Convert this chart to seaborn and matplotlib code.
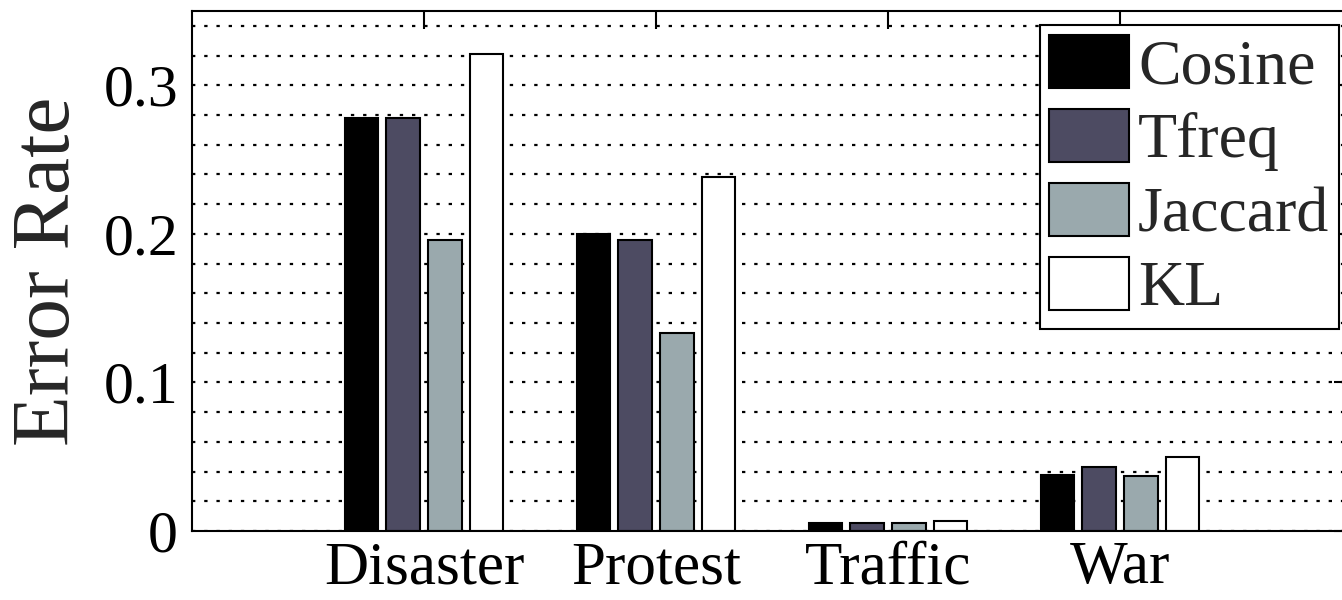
import numpy as np
import pandas as pd
import matplotlib
matplotlib.use("Agg")
import matplotlib.pyplot as plt
import seaborn as sb

# values
categories = ["Disaster", "Protest", "Traffic", "War"]
methods = ["Cosine", "Tfreq", "Jaccard", "KL"]
cosine = [0.278, 0.200, 0.0055, 0.038]
tfreq = [0.278, 0.196, 0.0055, 0.043]
jaccard = [0.196, 0.133, 0.0055, 0.037]
kl = [0.321, 0.238, 0.007, 0.050]
colors = ["#000000", "#4a4766", "#97abb0", "#ffffff"]
yticks = [0, 0.1, 0.2, 0.3]
ytick_labels = ["0", "0.1", "0.2", "0.3"]

rows = []
for name, vals in zip(methods, [cosine, tfreq, jaccard, kl]):
    for cat, v in zip(categories, vals):
        rows.append({"category": cat, "method": name, "value": v})
df = pd.DataFrame(rows)

sb.set_style("white")
plt.rcParams["font.family"] = ["Liberation Serif", "DejaVu Serif"]

fig = plt.figure(figsize=(13.42, 6), dpi=100)
# axes run past the right edge of the figure, as in the reference
ax = fig.add_axes([192 / 1342, 69 / 600, 1160 / 1342, 520 / 600])

sb.barplot(data=df, x="category", y="value", hue="method", hue_order=methods,
           order=categories, palette=colors, width=0.72, gap=0.2,
           edgecolor="black", linewidth=1.5, errorbar=None, ax=ax)

ax.set_xlim(-1, 4)
ax.set_ylim(0, 0.35)
ax.set_yticks(yticks)
ax.set_yticklabels(ytick_labels)
ax.set_yticks(np.arange(0.02, 0.35, 0.02), minor=True)
ax.set_axisbelow(True)
ax.grid(which="both", axis="y", color="black", linestyle=(0, (1.5, 4)), linewidth=1.6)
ax.grid(which="both", axis="x", visible=False)

ax.tick_params(which="major", direction="in", length=13, width=1.5,
               top=True, right=True, colors="black")
ax.tick_params(axis="y", which="major", labelsize=43, pad=10)
ax.tick_params(axis="x", which="major", labelsize=44, pad=7)
ax.tick_params(which="minor", length=0)
for s in ax.spines.values():
    s.set_visible(True)
    s.set_color("black")
    s.set_linewidth(1.5)

ax.set_xlabel("")
ax.set_ylabel("Error Rate", fontsize=60, labelpad=12)

handles, labels = ax.get_legend_handles_labels()
leg = ax.legend(handles, labels, loc="upper right",
                bbox_to_anchor=(1339 / 1342, 575 / 600), bbox_transform=fig.transFigure,
                fontsize=46, frameon=True, fancybox=False, edgecolor="black",
                framealpha=1, borderaxespad=0, handlelength=1.25, handleheight=0.9,
                labelspacing=0.18, handletextpad=0.14, borderpad=0.15)
leg.get_frame().set_linewidth(1.5)

fig.savefig("out.png", dpi=100)
